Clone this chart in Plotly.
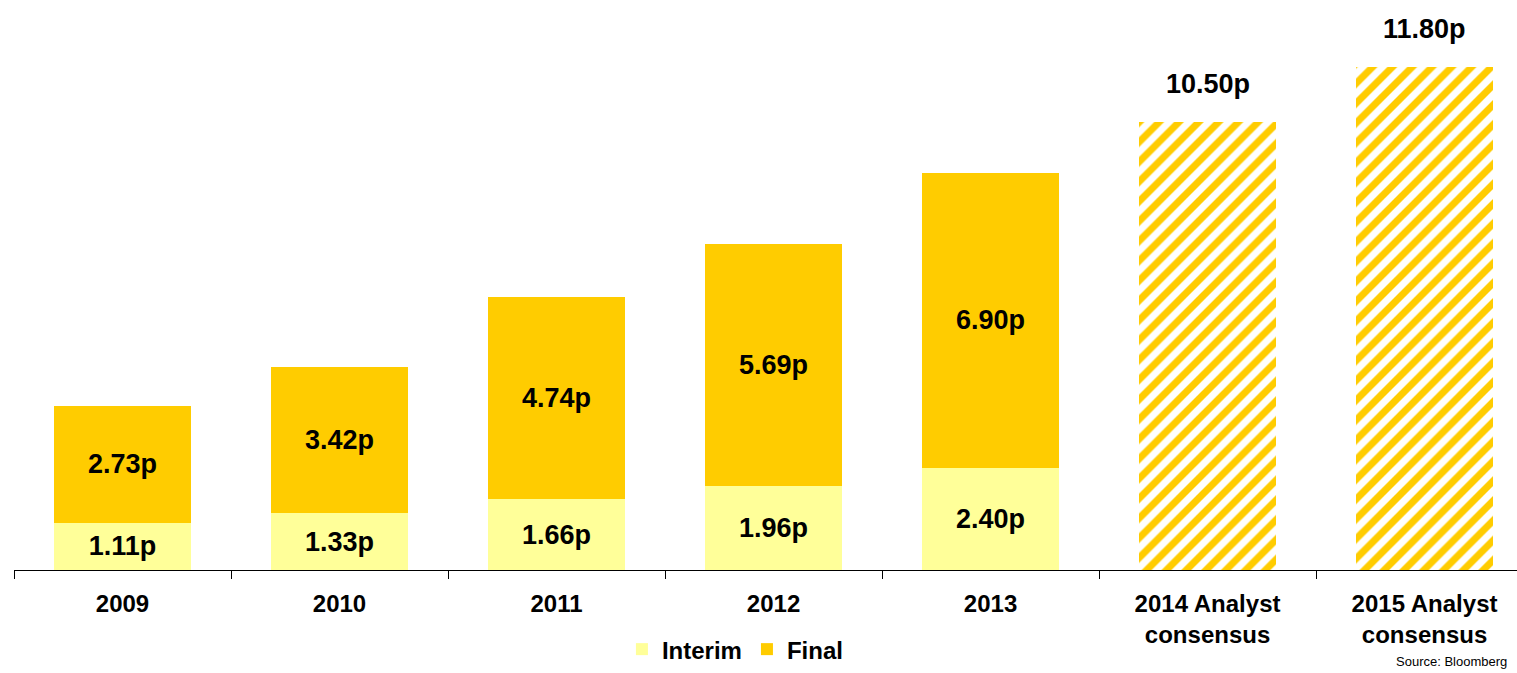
import plotly.graph_objects as go

# Dividend per share (pence)
categories = ["2009", "2010", "2011", "2012", "2013",
              "2014 Analyst<br>consensus", "2015 Analyst<br>consensus"]
actual_years = categories[:5]
forecast_years = categories[5:]
interim = [1.11, 1.33, 1.66, 1.96, 2.40]
final = [2.73, 3.42, 4.74, 5.69, 6.90]
consensus = [10.50, 11.80]
totals = [round(i + f, 2) for i, f in zip(interim, final)] + consensus

FONT = "Liberation Sans, Arial, sans-serif"
INTERIM_COLOR = "#FFFF99"
FINAL_COLOR = "#FFCC00"
BAR_WIDTH = 0.63

fig = go.Figure()

fig.add_trace(go.Bar(
    name="Interim", x=actual_years, y=interim, width=BAR_WIDTH,
    marker=dict(color=INTERIM_COLOR, line=dict(width=0)),
    text=[f"{v:.2f}p" for v in interim], textposition="inside",
    insidetextanchor="middle",
    textfont=dict(family=FONT, size=27, color="black", weight="bold"),
))
fig.add_trace(go.Bar(
    name="Final", x=actual_years, y=final, width=BAR_WIDTH,
    marker=dict(color=FINAL_COLOR, line=dict(width=0)),
    text=[f"{v:.2f}p" for v in final], textposition="inside",
    insidetextanchor="middle",
    textfont=dict(family=FONT, size=27, color="black", weight="bold"),
))
fig.add_trace(go.Bar(
    name="Consensus", x=forecast_years, y=consensus, width=BAR_WIDTH,
    showlegend=False,
    marker=dict(color="white", line=dict(width=0),
                pattern=dict(shape="/", fgcolor=FINAL_COLOR, bgcolor="white",
                             fgopacity=1, size=14, solidity=0.5)),
))

# Total labels above each column
for cat, tot in zip(categories, totals):
    fig.add_annotation(x=cat, y=tot, text=f"{tot:.2f}p", showarrow=False,
                       yshift=38, yanchor="middle",
                       font=dict(family=FONT, size=27, color="black", weight="bold"))

fig.add_annotation(xref="paper", yref="paper", x=0.995, y=-0.178, xanchor="right",
                   yanchor="bottom", text="Source: Bloomberg", showarrow=False,
                   font=dict(family=FONT, size=13, color="black"))

fig.update_layout(
    width=1517, height=673,
    margin=dict(l=14, r=0, t=0, b=103, autoexpand=False),
    barmode="stack",
    plot_bgcolor="white", paper_bgcolor="white",
    showlegend=True,
    legend=dict(orientation="h", x=0.48, xanchor="center", y=-0.179, yanchor="bottom",
                font=dict(family=FONT, size=24, color="black", weight="bold"),
                itemwidth=30, traceorder="normal", tracegroupgap=0),
)
fig.update_xaxes(
    type="category", range=[-0.5, 6.426], automargin=False,
    showline=True, linecolor="black", linewidth=1,
    ticks="outside", tickson="boundaries", ticklen=8, tickcolor="black",
    ticklabelstandoff=12,
    tickfont=dict(family=FONT, size=24, color="black", weight="bold"),
    showgrid=False,
)
fig.update_yaxes(range=[0, 570 / 42.65], visible=False, showgrid=False)

fig.write_html("out.html")
